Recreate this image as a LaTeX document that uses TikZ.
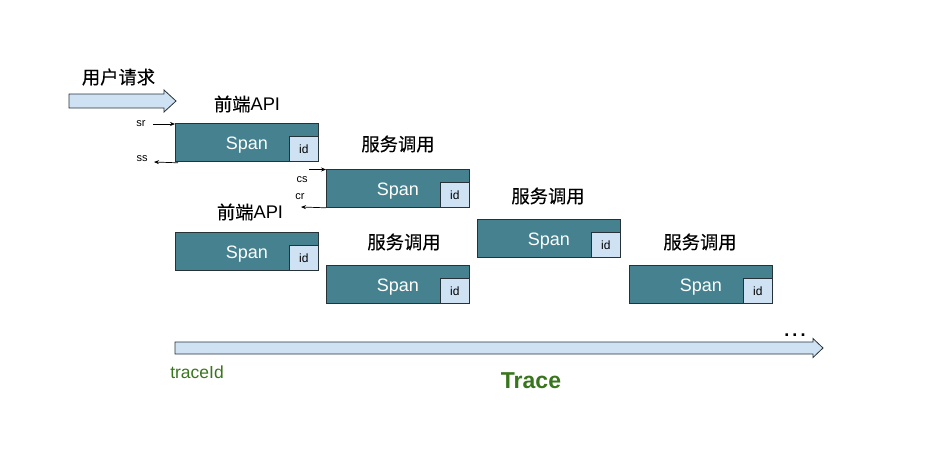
\documentclass[tikz,border=0pt]{standalone}
\usepackage{fontspec}
\setmainfont{Liberation Sans}
\newfontfamily\cjk[FakeBold=0.25]{Noto Sans CJK SC}
\usetikzlibrary{arrows.meta}
\definecolor{spanfill}{HTML}{45818E}
\definecolor{idfill}{HTML}{CFE2F3}
\definecolor{tracegreen}{HTML}{38761D}
\definecolor{edge}{HTML}{263238}
\begin{document}
\begin{tikzpicture}[x=1pt,y=-1pt,
  spanbox/.style={draw=edge, fill=spanfill, line width=0.8pt, minimum width=143pt, minimum height=38pt, inner sep=0pt, anchor=north west},
  idbox/.style={draw=edge, fill=idfill, line width=0.8pt, minimum width=29pt, minimum height=25pt, inner sep=0pt, anchor=south east, font=\fontsize{12}{14}\selectfont},
  spantext/.style={text=white, font=\fontsize{18}{20}\selectfont, inner sep=0pt},
  title/.style={font=\fontsize{18.3}{20}\selectfont, inner sep=0pt},
  small/.style={font=\fontsize{11}{12}\selectfont, inner sep=0pt},
  thin/.style={-{Stealth[length=5pt,width=4pt]}, line width=0.7pt, draw=black},
  bigarrow/.style={draw=edge, fill=idfill, line width=0.8pt, line join=miter}
]
\useasboundingbox (0,0) rectangle (932,464);

% user request arrow
\coordinate (uatip) at (176,101);
\draw[bigarrow] (69,94) -- (164,94) -- (164,90) -- (uatip) -- (164,112) -- (164,108) -- (69,108) -- cycle;
\node[title] (req) at (118.5,77) {\cjk 用户请求};

% span boxes
\node[spanbox] (s1) at (175,123) {};
\node[spanbox] (s2) at (326,169) {};
\node[spanbox] (s3) at (175,232) {};
\node[spanbox] (s4) at (326,265) {};
\node[spanbox] (s5) at (477,219) {};
\node[spanbox] (s6) at (629,265) {};

\foreach \s in {s1,s2,s3,s4,s5,s6}{
  \node[idbox] (\s id) at (\s.south east) {id};
  \node[spantext] (\s txt) at ([yshift=-2.5pt]\s.center) {Span};
}

% titles
\node[title] (t1) at (247,104) {{\cjk 前端}API};
\node[title] (t2) at (398,144) {\cjk 服务调用};
\node[title] (t3) at (250,212) {{\cjk 前端}API};
\node[title] (t4) at (404,242) {\cjk 服务调用};
\node[title] (t5) at (548,196) {\cjk 服务调用};
\node[title] (t6) at (700,242) {\cjk 服务调用};

% sr / ss / cs / cr
\node[small] (sr) at (141,124) {sr};
\node[small] (ss) at (142,159) {ss};
\node[small] (cs) at (302,180) {cs};
\node[small] (cr) at (300,197) {cr};
\coordinate (srs) at (153,124);
\draw[thin] (srs) -- ([yshift=-1pt]s1.north west);
\coordinate (sse) at (154,162);
\draw[thin] ([xshift=3pt,yshift=-1pt]s1.south west) -- (sse);
\coordinate (css) at (309,169.5);
\draw[thin] (css) -- ([yshift=-0.5pt]s2.north west);
\coordinate (cre) at (301,207);
\draw[thin] (s2.south west) -- (cre);

% trace arrow
\coordinate (ttip) at (823,348);
\draw[bigarrow] (175,342) -- (813,342) -- (813,338.5) -- (ttip) -- (813,357.5) -- (813,354) -- (175,354) -- cycle;
\node[font=\fontsize{18}{20}\selectfont\bfseries, inner sep=0pt, anchor=base] (dots) at (795,336) {.\hspace{3.2pt}.\hspace{3.2pt}.};
\node[font=\fontsize{17.5}{20}\selectfont, text=tracegreen, inner sep=0pt] (tid) at (197,372) {traceId};
\node[font=\fontsize{23}{26}\selectfont\bfseries, text=tracegreen, inner sep=0pt] (trace) at (531,381) {Trace};
\end{tikzpicture}
\end{document}
